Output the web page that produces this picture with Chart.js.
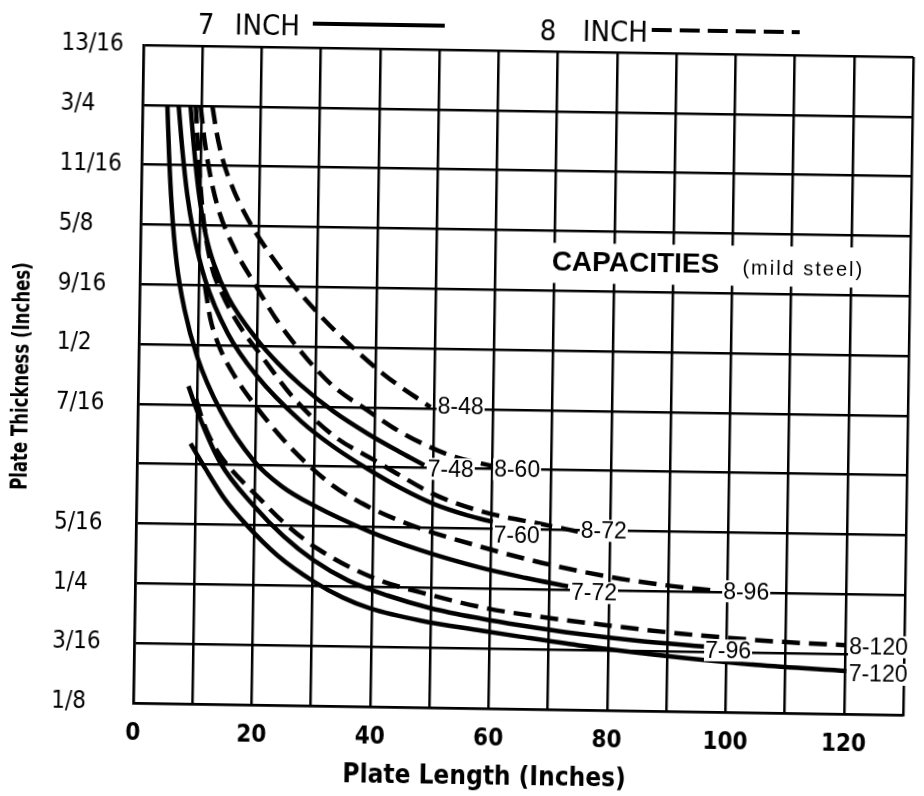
<!DOCTYPE html>
<html>
<head>
<meta charset="utf-8">
<script src="https://cdn.jsdelivr.net/npm/chart.js@4/dist/chart.umd.min.js"></script>
<style>
html,body{margin:0;padding:0;background:#fff;overflow:hidden;}
#wrap{width:924px;height:796px;transform:rotate(0.89deg);transform-origin:462px 398px;}
canvas{display:block;}
</style>
</head>
<body>
<div id="wrap"><canvas id="c" width="924" height="796"></canvas></div>
<script>
// ---- axis ticks ----
const xTickValues = [0, 20, 40, 60, 80, 100, 120];
const yTickLabels = ['1/8', '3/16', '1/4', '5/16', '', '7/16', '1/2', '9/16', '5/8', '11/16', '3/4', '13/16'];

// ---- curves: plate length (inches) vs max plate thickness (sixteenths of an inch) ----
const len_7_48  = [8.1, 8.8, 9.8, 11, 12.5, 15, 20, 23.5, 27.4, 33.1, 38.9, 44.6, 48.5];
const thk_7_48  = [12, 11.3, 10.5, 9.85, 9.35, 8.8, 8.1, 7.72, 7.36, 6.92, 6.56, 6.25, 6.05];
const len_7_60  = [6.1, 6.8, 7.8, 8.9, 11, 15, 20, 27.6, 33.2, 39, 44.6, 50.3, 56, 60.2];
const thk_7_60  = [12, 11.3, 10.5, 9.9, 9.1, 8.2, 7.5, 6.75, 6.33, 5.97, 5.66, 5.4, 5.22, 5.12];
const len_7_72  = [4.2, 4.6, 5.2, 6.2, 7.6, 9.9, 14, 19.7, 24.5, 29.9, 39.6, 48, 58.3, 66, 73.1];
const thk_7_72  = [12, 11.2, 10.3, 9.35, 8.6, 7.8, 6.9, 6.08, 5.66, 5.35, 4.92, 4.63, 4.35, 4.19, 4.06];
const len_7_96  = [8.5, 10.1, 14, 19.8, 25, 30.1, 36, 42.7, 50, 58.5, 65, 75, 85, 96.2];
const thk_7_96  = [7.31, 6.88, 6.05, 5.33, 4.82, 4.43, 4.1, 3.86, 3.66, 3.5, 3.4, 3.27, 3.17, 3.09];
const len_7_120 = [9.0, 11.6, 15, 18.8, 24, 30.1, 35, 39.8, 48.3, 58.5, 65, 75, 92.5, 105, 120.3];
const thk_7_120 = [6.35, 5.93, 5.42, 4.99, 4.5, 4.08, 3.82, 3.64, 3.45, 3.3, 3.21, 3.08, 2.9, 2.8, 2.72];

const len_8_48  = [11.8, 12.6, 13.7, 15.6, 17.5, 19.4, 24.9, 30, 34.1, 41.4, 49.4];
const thk_8_48  = [12, 11.55, 11.1, 10.6, 10.22, 9.9, 9.15, 8.58, 8.18, 7.56, 7.02];
const len_8_60  = [9.8, 10.6, 11.6, 13, 16, 19, 23.5, 28.5, 33, 38.8, 43.3, 48.4, 53.5, 60.2];
const thk_8_60  = [12, 11.4, 10.85, 10.3, 9.6, 9.1, 8.4, 7.79, 7.34, 6.95, 6.66, 6.4, 6.2, 6.05];
const len_8_72  = [9.0, 9.7, 10.6, 12, 14, 17.1, 21, 26.1, 33.1, 40.8, 44.3, 49.9, 54, 60, 68.2, 74.6];
const thk_8_72  = [12, 11.0, 10.1, 9.35, 8.85, 8.31, 7.8, 7.16, 6.52, 6.08, 5.88, 5.58, 5.42, 5.25, 5.1, 4.98];
const len_8_96  = [11.0, 12.0, 13.5, 16.2, 20, 26, 33.2, 39, 46.3, 58.3, 68.5, 80.8, 90, 97.8];
const thk_8_96  = [9.0, 8.45, 8.0, 7.5, 6.98, 6.3, 5.68, 5.35, 5.05, 4.7, 4.45, 4.22, 4.1, 4.03];
const len_8_120 = [9.8, 10.6, 12, 14.1, 21, 25, 30.8, 40.3, 50.4, 59.6, 69.8, 80.9, 92.3, 109.2, 120.2];
const thk_8_120 = [7.1, 6.85, 6.5, 6.15, 5.43, 5.05, 4.62, 4.15, 3.87, 3.67, 3.53, 3.41, 3.3, 3.19, 3.15];

const curveNames = ['7-48', '7-60', '7-72', '7-96', '7-120', '8-48', '8-60', '8-72', '8-96', '8-120'];
const curveLens  = [len_7_48, len_7_60, len_7_72, len_7_96, len_7_120, len_8_48, len_8_60, len_8_72, len_8_96, len_8_120];
const curveThks  = [thk_7_48, thk_7_60, thk_7_72, thk_7_96, thk_7_120, thk_8_48, thk_8_60, thk_8_72, thk_8_96, thk_8_120];

// label anchor points (plate length, thickness in sixteenths) for the curve captions
const labelAnchors = {
  '8-48': [50.6, 7.03], '7-48': [49.1, 5.99], '8-60': [60.3, 6.0], '7-60': [60.4, 4.9],
  '8-72': [75.1, 5.0], '7-72': [73.6, 3.96], '8-96': [99.3, 4.02], '7-96': [96.4, 3.03],
  '8-120': [120.7, 3.13], '7-120': [120.7, 2.67]
};

const NARROW = "'Liberation Sans Narrow', 'DejaVu Sans Condensed', 'Liberation Sans', sans-serif";
const SANS = "'Liberation Sans', Arial, sans-serif";

const datasets = curveNames.map((name, k) => ({
  label: name,
  data: curveLens[k].map((x, i) => ({ x: x, y: curveThks[k][i] / 16 })),
  showLine: true,
  borderColor: '#000',
  backgroundColor: '#000',
  borderWidth: 4.5,
  borderDash: name.startsWith('8') ? [18, 9] : [],
  pointRadius: 0,
  cubicInterpolationMode: 'monotone',
  fill: false,
  clip: false
}));

const decor = {
  id: 'decor',
  beforeDatasetsDraw(chart) {
    const ctx = chart.ctx, xs = chart.scales.x, ys = chart.scales.y;
    // white band for the CAPACITIES caption
    const x0 = xs.getPixelForValue(60) + 1.6, x1 = xs.getPixelForValue(130) - 1.6;
    const y0 = ys.getPixelForValue(9.8 / 16), y1 = ys.getPixelForValue(9.13 / 16);
    ctx.save();
    ctx.fillStyle = '#fff';
    ctx.fillRect(x0, y0, x1 - x0, y1 - y0);
    ctx.fillStyle = '#000';
    ctx.textBaseline = 'middle';
    ctx.textAlign = 'left';
    ctx.font = 'bold 28px ' + SANS;
    ctx.fillText('CAPACITIES', xs.getPixelForValue(69.5), ys.getPixelForValue(9.46 / 16));
    ctx.font = '20px ' + SANS;
    ctx.letterSpacing = '2px';
    ctx.fillText('(mild steel)', xs.getPixelForValue(101.7), ys.getPixelForValue(9.42 / 16));
    ctx.restore();
  },
  afterDatasetsDraw(chart) {
    const ctx = chart.ctx, xs = chart.scales.x, ys = chart.scales.y;
    ctx.save();
    ctx.font = '23px ' + SANS;
    ctx.textBaseline = 'middle';
    ctx.textAlign = 'left';
    curveNames.forEach(name => {
      const a = labelAnchors[name];
      const px = xs.getPixelForValue(a[0]), py = ys.getPixelForValue(a[1] / 16);
      const w = ctx.measureText(name).width;
      ctx.fillStyle = '#fff';
      ctx.fillRect(px - 1, py - 11, w + 2, 22);
      ctx.fillStyle = '#000';
      ctx.fillText(name, px, py + 1);
    });
    ctx.restore();
  },
  afterDraw(chart) {
    const ctx = chart.ctx;
    ctx.save();
    ctx.fillStyle = '#000';
    ctx.strokeStyle = '#000';
    ctx.textBaseline = 'middle';
    ctx.textAlign = 'left';
    // legend
    ctx.font = '29px ' + NARROW;
    ctx.fillText('7', 192, 30);
    ctx.fillText('INCH', 229, 30);
    ctx.lineWidth = 4;
    ctx.beginPath(); ctx.moveTo(307, 26); ctx.lineTo(439, 26); ctx.stroke();
    ctx.fillText('8', 534, 31);
    ctx.fillText('INCH', 577, 31);
    ctx.setLineDash([20, 8]);
    ctx.beginPath(); ctx.moveTo(646, 27); ctx.lineTo(794, 27); ctx.stroke();
    ctx.setLineDash([]);
    // axis titles
    ctx.font = 'bold 26px ' + NARROW;
    ctx.textAlign = 'center';
    ctx.fillText('Plate Length (Inches)', 490, 777);
    ctx.font = 'bold 23px ' + NARROW;
    ctx.translate(22, 383);
    ctx.rotate(-Math.PI / 2);
    ctx.scale(0.8, 1);
    ctx.fillText('Plate Thickness (Inches)', 0, 0);
    ctx.restore();
  }
};

new Chart(document.getElementById('c'), {
  type: 'scatter',
  data: { datasets: datasets },
  options: {
    responsive: false,
    animation: false,
    layout: { padding: { left: 56, right: 15, top: 50, bottom: 0 } },
    plugins: { legend: { display: false }, tooltip: { enabled: false }, title: { display: false } },
    scales: {
      x: {
        type: 'linear', min: 0, max: 130,
        afterFit(s) { s.height = 88; },
        ticks: {
          stepSize: 10, autoSkip: false, maxRotation: 0, color: '#000', padding: 16,
          font: { family: NARROW, size: 24, weight: 'bold' },
          callback: v => xTickValues.includes(v) ? String(v) : ''
        },
        grid: { color: '#000', lineWidth: 2.5, drawTicks: false },
        border: { color: '#000', width: 2.5 }
      },
      y: {
        type: 'linear', min: 0.125, max: 0.8125,
        afterFit(s) { s.width = 82; },
        ticks: {
          stepSize: 0.0625, autoSkip: false, color: '#000', crossAlign: 'far',
          font: { family: NARROW, size: 24 },
          callback: v => yTickLabels[Math.round(v * 16) - 2]
        },
        grid: { color: '#000', lineWidth: 2.5, drawTicks: false },
        border: { color: '#000', width: 2.5 }
      }
    }
  },
  plugins: [decor]
});
</script>
</body>
</html>
